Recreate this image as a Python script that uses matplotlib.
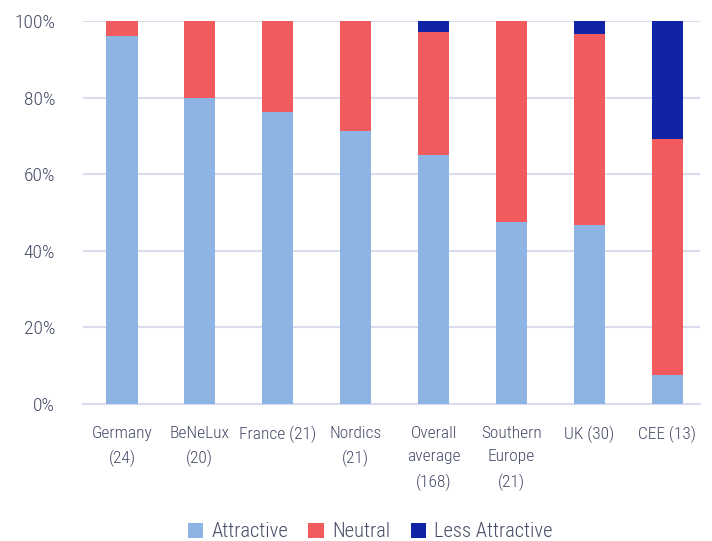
import matplotlib.pyplot as plt
import numpy as np

categories = ["Germany\n(24)", "BeNeLux\n(20)", "France (21)", "Nordics\n(21)",
              "Overall\naverage\n(168)", "Southern\nEurope\n(21)", "UK (30)", "CEE (13)"]
attractive = [96, 80, 76.2, 71.4, 65, 47.6, 46.7, 7.7]
neutral = [4, 20, 23.8, 28.6, 32, 52.4, 50, 61.5]
less_attractive = [0, 0, 0, 0, 3, 0, 3.3, 30.8]

plt.rcParams['font.family'] = ['Roboto Condensed', 'Roboto', 'DejaVu Sans']
plt.rcParams['font.weight'] = 'light'
text_color = '#454b66'

fig = plt.figure(figsize=(7.12, 5.41), dpi=100)
ax = fig.add_axes([83 / 712, 1 - 404 / 541, 617 / 712, 383 / 541])

x = np.arange(len(categories))
w = 0.4
attractive = np.array(attractive)
neutral = np.array(neutral)
less_attractive = np.array(less_attractive)
ax.bar(x, attractive, w, color='#8db4e2', label='Attractive', zorder=3)
ax.bar(x, neutral, w, bottom=attractive, color='#f15b5e', label='Neutral', zorder=3)
ax.bar(x, less_attractive, w, bottom=attractive + neutral, color='#1124a6',
       label='Less Attractive', zorder=3)

ax.set_ylim(0, 100)
ax.set_xlim(-0.5, 7.42)
ax.set_yticks(range(0, 101, 20))
ax.set_yticklabels([f"{v}%" for v in range(0, 101, 20)], fontsize=14)
ax.set_xticks(x)
ax.set_xticklabels(categories, linespacing=1.68, fontsize=12.5)
ax.yaxis.grid(True, color='#d9dcef', linewidth=1.5, zorder=0)
ax.tick_params(axis='both', length=0, colors=text_color)
ax.tick_params(axis='y', pad=20)
ax.tick_params(axis='x', pad=16)
for s in ['top', 'right', 'left']:
    ax.spines[s].set_visible(False)
ax.spines['bottom'].set_color('#d9dcef')
ax.spines['bottom'].set_linewidth(1.5)

fig.legend(loc='lower center', bbox_to_anchor=(0.52, -0.035), ncol=3, frameon=False,
           fontsize=14.8, handlelength=0.75, handleheight=0.75, handletextpad=0.4,
           columnspacing=1.0, labelcolor=text_color)

fig.savefig('out.png', dpi=100)
